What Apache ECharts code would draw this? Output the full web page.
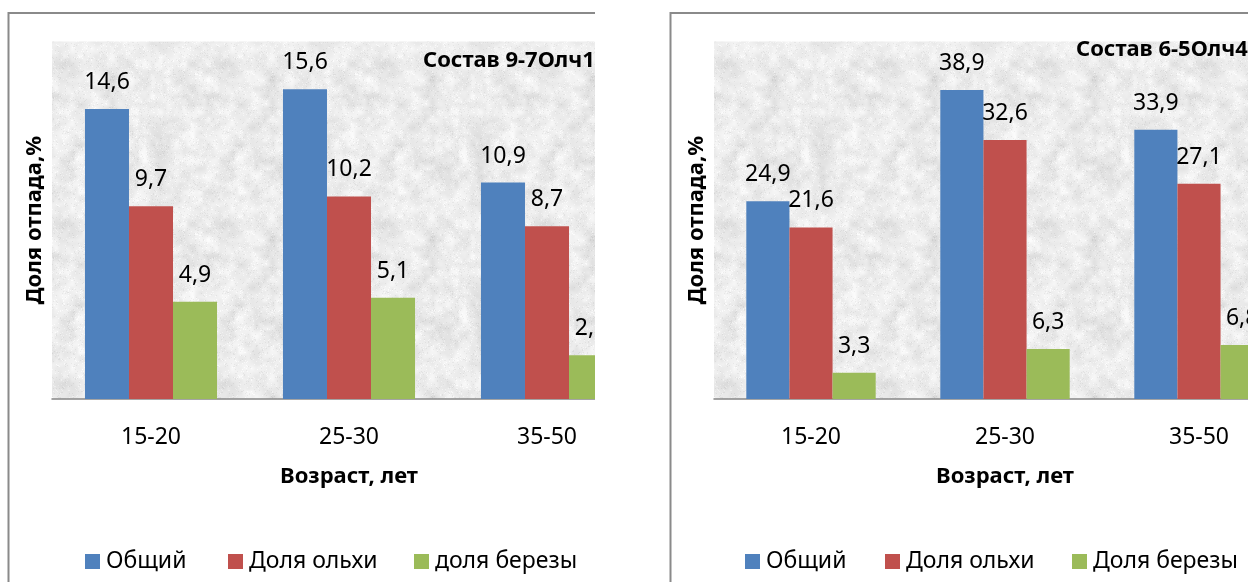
<!DOCTYPE html>
<html lang="ru">
<head>
<meta charset="utf-8">
<title>Доля отпада по возрасту</title>
<script src="https://cdn.jsdelivr.net/npm/echarts@6/dist/echarts.min.js"></script>
<style>
  html, body { margin: 0; padding: 0; background: #fff; }
  body { width: 1251px; height: 582px; overflow: hidden; position: relative; }
  .clip { position: absolute; top: 0; height: 582px; overflow: hidden; }
  .chart { position: absolute; left: 0; top: 0; width: 720px; height: 620px; }
</style>
</head>
<body>
<div class="clip" id="clipA" style="left:0;width:595px"><div class="chart" id="chartA"></div></div>
<div class="clip" id="clipB" style="left:662px;width:586px"><div class="chart" id="chartB"></div></div>
<script>
// Age classes shown on the x axis
const ageGroups = ['15-20', '25-30', '35-50'];

// Stand 9-7Олч1: total loss and shares of alder and birch, %
const totalA = [14.6, 15.6, 10.9];
const alderA = [9.7, 10.2, 8.7];
const birchA = [4.9, 5.1, 2.2];

// Stand 6-5Олч4
const totalB = [24.9, 38.9, 33.9];
const alderB = [21.6, 32.6, 27.1];
const birchB = [3.3, 6.3, 6.8];

const namesA = ['Общий', 'Доля ольхи', 'доля березы'];
const namesB = ['Общий', 'Доля ольхи', 'Доля березы'];

const COLORS = ['#4F81BD', '#C0504D', '#9BBB59'];
const FONT = '"Noto Sans", "Open Sans", sans-serif';

// Granite-like plot fill: a tileable value-noise canvas
function graniteTile() {
  const N = 160;
  const c = document.createElement('canvas');
  c.width = N; c.height = N;
  const ctx = c.getContext('2d');
  const img = ctx.createImageData(N, N);
  function hash(x, y, s) {
    let h = (x * 374761393 + y * 668265263 + s * 2147483647) | 0;
    h = Math.imul(h ^ (h >>> 13), 1274126177);
    h = h ^ (h >>> 16);
    return (h >>> 0) / 4294967295;
  }
  function noise(x, y, cell, seed) {
    const P = N / cell;
    const gx = x / cell, gy = y / cell;
    const x0 = Math.floor(gx), y0 = Math.floor(gy);
    const fx = gx - x0, fy = gy - y0;
    const sx = fx * fx * (3 - 2 * fx), sy = fy * fy * (3 - 2 * fy);
    const a = hash(x0 % P, y0 % P, seed), b = hash((x0 + 1) % P, y0 % P, seed);
    const d = hash(x0 % P, (y0 + 1) % P, seed), e = hash((x0 + 1) % P, (y0 + 1) % P, seed);
    return (a * (1 - sx) + b * sx) * (1 - sy) + (d * (1 - sx) + e * sx) * sy;
  }
  for (let y = 0; y < N; y++) {
    for (let x = 0; x < N; x++) {
      const n = 0.4 * noise(x, y, 16, 1) + 0.35 * noise(x, y, 8, 2) + 0.25 * noise(x, y, 4, 3);
      const speck = hash(x, y, 7);
      let v = 235 + (n - 0.5) * 40;
      if (speck > 0.94) v -= 12;
      else if (speck < 0.06) v += 10;
      v = Math.max(195, Math.min(252, v));
      const i = (y * N + x) * 4;
      img.data[i] = img.data[i + 1] = img.data[i + 2] = v;
      img.data[i + 3] = 255;
    }
  }
  ctx.putImageData(img, 0, 0);
  return c;
}
const tile = graniteTile();

const fmt = p => String(p.value).replace('.', ',');

function buildOption(cfg) {
  const seriesData = [cfg.total, cfg.alder, cfg.birch];
  const legends = cfg.names.map((nm, i) => ({
    data: [nm],
    left: cfg.legendX[i],
    top: 550,
    icon: 'rect',
    itemWidth: 15,
    itemHeight: 15,
    itemGap: 0,
    padding: 0,
    textStyle: { fontFamily: FONT, fontSize: 23, color: '#000', padding: [0, 0, 0, 1] }
  }));
  return {
    animation: false,
    color: COLORS,
    textStyle: { fontFamily: FONT },
    title: {
      text: cfg.title,
      left: cfg.titleX,
      top: cfg.titleY,
      padding: 0,
      textStyle: { fontFamily: FONT, fontSize: 22, fontWeight: 'bold', color: '#000' }
    },
    legend: legends,
    graphic: [{
      type: 'rect',
      shape: { x: 8.5, y: 13, width: 900, height: 800 },
      style: { fill: 'none', stroke: '#8a8a8a', lineWidth: 2 },
      z: 100
    }],
    grid: {
      left: 52, top: 41.5, width: cfg.plotWidth, height: 357.5,
      show: true,
      borderWidth: 0,
      backgroundColor: { image: tile, repeat: 'repeat' }
    },
    xAxis: {
      type: 'category',
      data: ageGroups,
      name: 'Возраст, лет',
      nameLocation: 'middle',
      nameGap: 67,
      nameTextStyle: { fontFamily: FONT, fontSize: 22, fontWeight: 'bold', color: '#000' },
      axisLine: { lineStyle: { color: '#868686', width: 1.5 } },
      axisTick: { length: 8, lineStyle: { color: '#868686', width: 1.5 } },
      axisLabel: { margin: 27, fontFamily: FONT, fontSize: 23, color: '#000' }
    },
    yAxis: {
      type: 'value',
      min: 0,
      max: cfg.yMax,
      interval: cfg.yStep,
      name: 'Доля отпада,%',
      nameLocation: 'middle',
      nameGap: 6,
      nameRotate: 90,
      nameTextStyle: { fontFamily: FONT, fontSize: 22, fontWeight: 'bold', color: '#000' },
      axisLine: { show: false },
      axisTick: { show: false },
      axisLabel: { show: false },
      splitLine: { show: false }
    },
    series: cfg.names.map((nm, i) => ({
      type: 'bar',
      name: nm,
      data: seriesData[i],
      barGap: '0%',
      barCategoryGap: '33.3%',
      label: {
        show: true,
        position: 'top',
        distance: 15,
        formatter: fmt,
        fontFamily: FONT,
        fontSize: 23,
        color: '#000'
      }
    }))
  };
}

const chartA = echarts.init(document.getElementById('chartA'), null, { renderer: 'canvas' });
chartA.setOption(buildOption({
  title: 'Состав 9-7Олч1Б',
  titleX: 423, titleY: 50,
  plotWidth: 594,
  total: totalA, alder: alderA, birch: birchA,
  names: namesA,
  yMax: 18, yStep: 2,
  legendX: [85, 228, 414]
}));

const chartB = echarts.init(document.getElementById('chartB'), null, { renderer: 'canvas' });
chartB.setOption(buildOption({
  title: 'Состав 6-5Олч4Б',
  titleX: 414, titleY: 39,
  plotWidth: 582,
  total: totalB, alder: alderB, birch: birchB,
  names: namesB,
  yMax: 45, yStep: 5,
  legendX: [83, 223, 410]
}));
</script>
</body>
</html>
